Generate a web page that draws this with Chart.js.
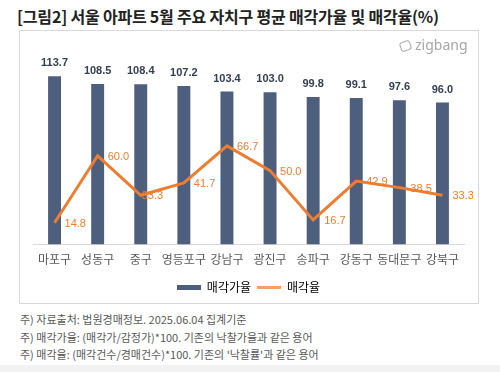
<!DOCTYPE html>
<html>
<head>
<meta charset="utf-8">
<script src="https://cdn.jsdelivr.net/npm/chart.js@4/dist/chart.umd.min.js"></script>
<style>
  html,body{margin:0;padding:0;background:#fff;}
  body{width:500px;height:372px;position:relative;overflow:hidden;font-family:"Noto Sans CJK KR","Noto Sans",sans-serif;}
  #title{position:absolute;left:17px;top:4px;font-size:16px;font-weight:700;color:#222;white-space:nowrap;letter-spacing:-0.2px;}
  #box{position:absolute;left:19px;top:30px;width:460px;height:274px;border:1px solid #d9d9d9;box-sizing:border-box;}
  #box canvas{position:absolute;left:0;top:0;}
  #logo{position:absolute;left:400px;top:35px;font-family:"Noto Sans","DejaVu Sans",sans-serif;font-size:14px;color:#a6a6a6;white-space:nowrap;}
  #logo .ic{display:inline-block;width:9px;height:8px;border:1.5px solid #a6a6a6;border-radius:3px;transform:rotate(-20deg);margin-right:4px;vertical-align:-1px;}
  .note{position:absolute;left:20px;font-size:11px;color:#595959;white-space:nowrap;}
  #band{position:absolute;left:0;top:365px;width:500px;height:7px;background:#f2f2f2;}
</style>
</head>
<body>
<div id="title">[그림2] 서울 아파트 5월 주요 자치구 평균 매각가율 및 매각율(%)</div>
<div id="box"><canvas id="c" width="458" height="272"></canvas></div>
<div id="logo"><span class="ic"></span>zigbang</div>
<div class="note" style="top:311px;">주) 자료출처: 법원경매정보. 2025.06.04 집계기준</div>
<div class="note" style="top:329px;">주) 매각가율: (매각가/감정가)*100. 기존의 낙찰가율과 같은 용어</div>
<div class="note" style="top:346px;">주) 매각율: (매각건수/경매건수)*100. 기존의 '낙찰률'과 같은 용어</div>
<div id="band"></div>
<script>
const categories = ["마포구","성동구","중구","영등포구","강남구","광진구","송파구","강동구","동대문구","강북구"];
const salePriceRate = [113.7,108.5,108.4,107.2,103.4,103.0,99.8,99.1,97.6,96.0];
const saleRate = [14.8,60.0,33.3,41.7,66.7,50.0,16.7,42.9,38.5,33.3];
const seriesNames = ["매각가율","매각율"];

const BAR_COLOR = "#4E5F7E";
const LINE_COLOR = "#ED7D31";
const FONT = '"Noto Sans CJK KR","Noto Sans",sans-serif';
// horizontal nudge of each line label (style only)
const lineLabelNudge = [10,10,1,10,10,10,11,10,11,10];

function swatch(w,h,color){
  const c=document.createElement('canvas');c.width=w;c.height=h;
  const x=c.getContext('2d');x.fillStyle=color;x.fillRect(0,0,w,h);return c;
}

const labelPlugin = {
  id:'valueLabels',
  afterDatasetsDraw(chart){
    const ctx=chart.ctx;
    ctx.save();
    const barMeta=chart.getDatasetMeta(1);
    ctx.font='bold 11px "Liberation Sans", Arial, sans-serif';
    ctx.fillStyle='#333F50';
    ctx.textAlign='center';ctx.textBaseline='middle';
    barMeta.data.forEach((el,i)=>{
      ctx.fillText(salePriceRate[i].toFixed(1), el.x, el.y-13);
    });
    const lineMeta=chart.getDatasetMeta(0);
    ctx.font='11px "Liberation Sans", Arial, sans-serif';
    ctx.fillStyle=LINE_COLOR;
    ctx.textAlign='left';ctx.textBaseline='middle';
    lineMeta.data.forEach((el,i)=>{
      ctx.fillText(saleRate[i].toFixed(1), el.x+lineLabelNudge[i], el.y+1);
    });
    ctx.restore();
  }
};

new Chart(document.getElementById('c'),{
  data:{
    labels:categories,
    datasets:[
      {type:'line',label:seriesNames[1],data:saleRate,borderColor:LINE_COLOR,backgroundColor:LINE_COLOR,borderWidth:3,pointRadius:0,tension:0,order:0},
      {type:'bar',label:seriesNames[0],data:salePriceRate,backgroundColor:BAR_COLOR,barPercentage:0.3,categoryPercentage:1,order:1}
    ]
  },
  options:{
    responsive:false,animation:false,
    layout:{padding:{left:13,right:14,top:36,bottom:0}},
    scales:{
      x:{grid:{display:false,drawTicks:false},border:{display:true,color:'#d9d9d9',width:1},
         ticks:{padding:8,maxRotation:0,minRotation:0,autoSkip:false,color:'#595959',font:{family:FONT,size:12}}},
      y:{display:false,min:0,max:120}
    },
    plugins:{
      tooltip:{enabled:false},
      legend:{
        position:'bottom',
        labels:{
          usePointStyle:true,pointStyleWidth:24,boxHeight:12,padding:6,
          color:'#595959',font:{family:FONT,size:12},
          generateLabels(chart){
            return [
              {text:seriesNames[0],pointStyle:swatch(24,5,BAR_COLOR),fillStyle:BAR_COLOR,strokeStyle:BAR_COLOR,lineWidth:0,datasetIndex:1,hidden:false},
              {text:seriesNames[1],pointStyle:swatch(24,3,'#F4A06A'),fillStyle:LINE_COLOR,strokeStyle:LINE_COLOR,lineWidth:0,datasetIndex:0,hidden:false}
            ];
          }
        }
      }
    }
  },
  plugins:[labelPlugin]
});
</script>
</body>
</html>
